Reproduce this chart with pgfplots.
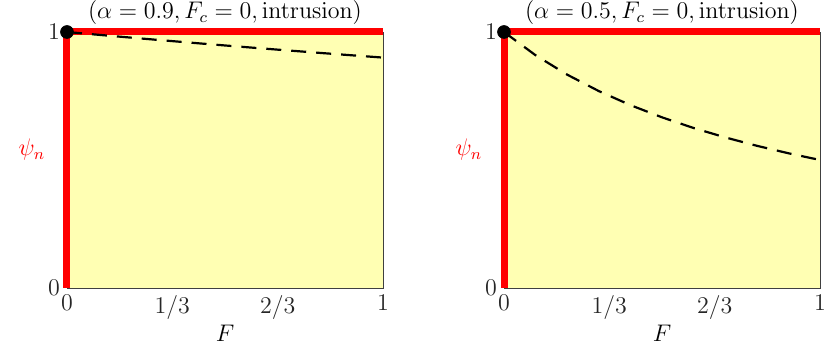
\documentclass[border=0pt]{standalone}
\usepackage{pgfplots}
\pgfplotsset{compat=1.18}
\definecolor{paleyellow}{RGB}{255,255,179}
\definecolor{axgray}{RGB}{64,64,64}

% curves psi_n(F)
\pgfplotstableread{
F     psi
0.0   1.00000
0.1   0.98901
0.2   0.97826
0.3   0.96774
0.4   0.95745
0.5   0.94737
0.6   0.93750
0.7   0.92784
0.8   0.91837
0.9   0.90909
1.0   0.90000
}\curveA
\pgfplotstableread{
F     psi
0.0   1.00000
0.1   0.90909
0.2   0.83333
0.3   0.76923
0.4   0.71429
0.5   0.66667
0.6   0.62500
0.7   0.58824
0.8   0.55556
0.9   0.52632
1.0   0.50000
}\curveB

\pgfplotsset{
  panel/.style={
    scale only axis, width=158pt, height=128pt,
    xmin=0, xmax=1, ymin=0, ymax=1,
    clip=false,
    font=\large,
    axis background/.style={fill=paleyellow},
    axis line style={axgray},
    major tick length=0pt,
    xtick={0,0.33333,0.66667,1},
    xticklabels={$0$,$1/3$,$2/3$,$1$},
    ytick={0,1},
    ticklabel style={color=black!85},
    xlabel={$F$},
    xlabel style={at={(rel axis cs:0.5,0)}, anchor=center, yshift=-22.5pt},
    ylabel={$\psi_n$},
    ylabel style={rotate=-90, red, at={(rel axis cs:0,0.54)}, anchor=center, xshift=-17.5pt},
    every axis title shift=0pt,
    title style={at={(rel axis cs:0.5,1)}, anchor=south},
  },
}

\begin{document}
\begin{tikzpicture}
\begin{axis}[panel, at={(0pt,0pt)}, anchor=south west,
  title={$(\alpha=0.9, F_c=0, \mathrm{intrusion})$}]
  \addplot[red, line width=3.5pt, line join=miter] coordinates {(0,0) (0,1) (1,1)};
  \addplot[black, line width=1.1pt, dash pattern=on 7.5pt off 5pt] table[x=F, y=psi] {\curveA};
  \addplot[only marks, mark=*, mark size=3.2pt, black] coordinates {(0,1)};
\end{axis}
\begin{axis}[panel, at={(218.5pt,0pt)}, anchor=south west,
  title={$(\alpha=0.5, F_c=0, \mathrm{intrusion})$}]
  \addplot[red, line width=3.5pt, line join=miter] coordinates {(0,0) (0,1) (1,1)};
  \addplot[black, line width=1.1pt, dash pattern=on 7.5pt off 5pt] table[x=F, y=psi] {\curveB};
  \addplot[only marks, mark=*, mark size=3.2pt, black] coordinates {(0,1)};
\end{axis}
\pgfresetboundingbox
\path (-33.5pt,-34.5pt) rectangle (381.5pt,144pt);
\end{tikzpicture}
\end{document}
